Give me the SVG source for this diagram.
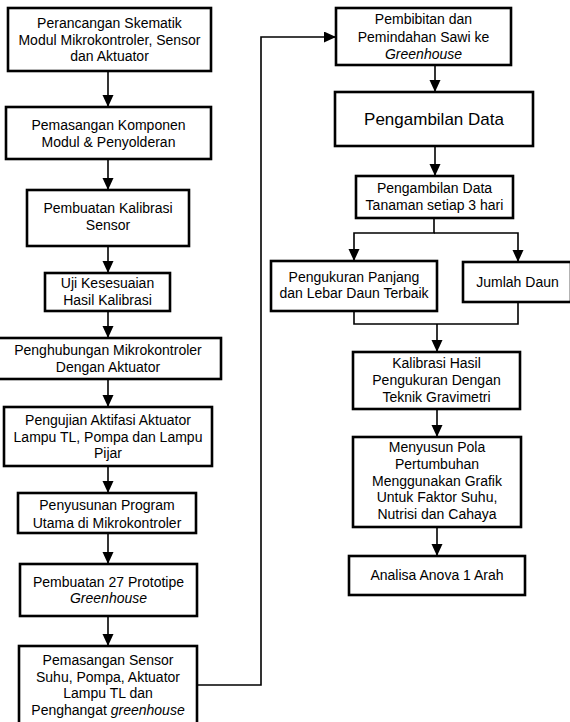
<svg xmlns="http://www.w3.org/2000/svg" width="570" height="722" viewBox="0 0 570 722">
<style>
.b{fill:#fff;stroke:#000;stroke-width:2.6}
.t{font-family:"Liberation Sans",Arial,sans-serif;font-size:14px;text-anchor:middle;fill:#000}
.big{font-size:17px}
.c{fill:none;stroke:#000;stroke-width:1.6}
.i{font-style:italic}
</style>
<defs>
<marker id="ah" markerUnits="userSpaceOnUse" markerWidth="12" markerHeight="12" refX="12" refY="5.5" orient="auto">
<path d="M0,0 L12,5.5 L0,11 z" fill="#000"/>
</marker>
</defs>
<rect width="570" height="722" fill="#fff"/>
<g id="connectors">
<line class="c" x1="108" y1="71" x2="108" y2="107" marker-end="url(#ah)"/>
<line class="c" x1="108" y1="159" x2="108" y2="190" marker-end="url(#ah)"/>
<line class="c" x1="108" y1="246" x2="108" y2="273" marker-end="url(#ah)"/>
<line class="c" x1="108" y1="311" x2="108" y2="338" marker-end="url(#ah)"/>
<line class="c" x1="108" y1="379" x2="108" y2="407" marker-end="url(#ah)"/>
<line class="c" x1="108" y1="466" x2="108" y2="493" marker-end="url(#ah)"/>
<line class="c" x1="108" y1="533" x2="108" y2="564" marker-end="url(#ah)"/>
<line class="c" x1="108" y1="616" x2="108" y2="646" marker-end="url(#ah)"/>
<polyline class="c" points="197,685 261,685 261,37 336,37" marker-end="url(#ah)"/>
<line class="c" x1="435" y1="65" x2="435" y2="92" marker-end="url(#ah)"/>
<line class="c" x1="435" y1="146" x2="435" y2="176" marker-end="url(#ah)"/>
<polyline class="c" points="434,218 434,233 354,233 354,261" marker-end="url(#ah)"/>
<polyline class="c" points="434,233 518,233 518,262" marker-end="url(#ah)"/>
<polyline class="c" points="354,311 354,324 518,324 518,302"/>
<line class="c" x1="437" y1="324" x2="437" y2="352" marker-end="url(#ah)"/>
<line class="c" x1="437" y1="409" x2="437" y2="437" marker-end="url(#ah)"/>
<line class="c" x1="437" y1="527" x2="437" y2="556" marker-end="url(#ah)"/>
</g>
<g id="n1"><rect class="b" x="8" y="8" width="203" height="63"/>
<text class="t" x="109.5" y="27.8">Perancangan Skematik</text>
<text class="t" x="109.5" y="44.5">Modul Mikrokontroler, Sensor</text>
<text class="t" x="109.5" y="61.2">dan Aktuator</text></g>
<g id="n2"><rect class="b" x="6" y="107" width="205" height="52"/>
<text class="t" x="108.5" y="130">Pemasangan Komponen</text>
<text class="t" x="108.5" y="146.7">Modul &amp; Penyolderan</text></g>
<g id="n3"><rect class="b" x="27" y="190" width="162" height="56"/>
<text class="t" x="108" y="213.3">Pembuatan Kalibrasi</text>
<text class="t" x="108" y="230">Sensor</text></g>
<g id="n4"><rect class="b" x="45" y="273" width="125" height="38"/>
<text class="t" x="107.5" y="288.3">Uji Kesesuaian</text>
<text class="t" x="107.5" y="305">Hasil Kalibrasi</text></g>
<g id="n5"><rect class="b" x="-3" y="338" width="224" height="41"/>
<text class="t" x="108" y="355">Penghubungan Mikrokontroler</text>
<text class="t" x="108" y="371.7">Dengan Aktuator</text></g>
<g id="n6"><rect class="b" x="4" y="407" width="208" height="59"/>
<text class="t" x="108" y="425">Pengujian Aktifasi Aktuator</text>
<text class="t" x="108" y="441.7">Lampu TL, Pompa dan Lampu</text>
<text class="t" x="108" y="458.3">Pijar</text></g>
<g id="n7"><rect class="b" x="18" y="493" width="178" height="40"/>
<text class="t" x="107" y="510">Penyusunan Program</text>
<text class="t" x="107" y="527.7">Utama di Mikrokontroler</text></g>
<g id="n8"><rect class="b" x="20" y="564" width="177" height="52"/>
<text class="t" x="108.5" y="586.7">Pembuatan 27 Prototipe</text>
<text class="t i" x="108.5" y="603.3">Greenhouse</text></g>
<g id="n9"><rect class="b" x="19" y="646" width="178" height="80"/>
<text class="t" x="108" y="665">Pemasangan Sensor</text>
<text class="t" x="108" y="681.7">Suhu, Pompa, Aktuator</text>
<text class="t" x="108" y="698.3">Lampu TL dan</text>
<text class="t" x="108" y="715">Penghangat <tspan class="i">greenhouse</tspan></text></g>
<g id="r1"><rect class="b" x="336" y="8" width="175" height="57"/>
<text class="t" x="423.5" y="24.3">Pembibitan dan</text>
<text class="t" x="423.5" y="41.7">Pemindahan Sawi ke</text>
<text class="t i" x="423.5" y="59">Greenhouse</text></g>
<g id="r2"><rect class="b" x="335" y="92" width="198" height="54"/>
<text class="t big" x="434" y="124.5">Pengambilan Data</text></g>
<g id="r3"><rect class="b" x="356" y="176" width="157" height="42"/>
<text class="t" x="434.5" y="193.3">Pengambilan Data</text>
<text class="t" x="434.5" y="210">Tanaman setiap 3 hari</text></g>
<g id="r4"><rect class="b" x="271" y="261" width="166" height="50"/>
<text class="t" x="354" y="281.7">Pengukuran Panjang</text>
<text class="t" x="354" y="298.3">dan Lebar Daun Terbaik</text></g>
<g id="r5"><rect class="b" x="463" y="262" width="108" height="40"/>
<text class="t" x="517.5" y="286.7">Jumlah Daun</text></g>
<g id="r6"><rect class="b" x="353" y="352" width="167" height="57"/>
<text class="t" x="436.5" y="368.3">Kalibrasi Hasil</text>
<text class="t" x="436.5" y="385">Pengukuran Dengan</text>
<text class="t" x="436.5" y="401.7">Teknik Gravimetri</text></g>
<g id="r7"><rect class="b" x="353" y="437" width="168" height="90"/>
<text class="t" x="437" y="452.3">Menyusun Pola</text>
<text class="t" x="437" y="469">Pertumbuhan</text>
<text class="t" x="437" y="485.7">Menggunakan Grafik</text>
<text class="t" x="437" y="502.3">Untuk Faktor Suhu,</text>
<text class="t" x="437" y="519">Nutrisi dan Cahaya</text></g>
<g id="r8"><rect class="b" x="349" y="556" width="176" height="39"/>
<text class="t" x="437" y="580">Analisa Anova 1 Arah</text></g>
</svg>
